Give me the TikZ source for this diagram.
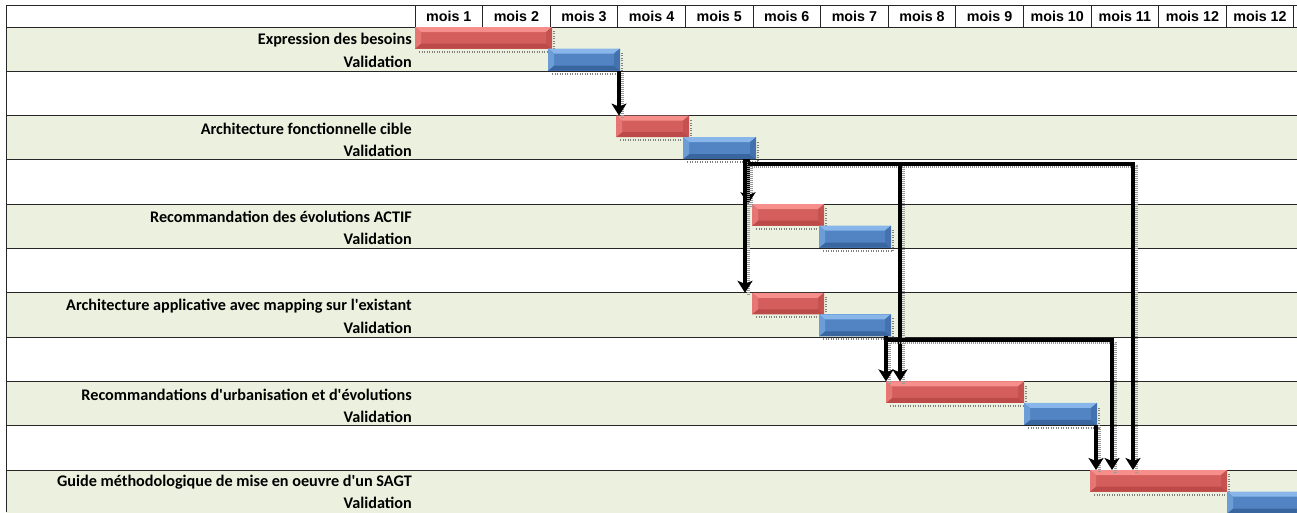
\documentclass[tikz,border=0pt]{standalone}
\usepackage{fontspec}
\setmainfont{Carlito}[Ligatures=TeXOff]
\newfontfamily\hdrfont{Liberation Sans}
\usetikzlibrary{arrows.meta,calc}
\definecolor{rowgreen}{RGB}{235,241,222}
\definecolor{redmid}{RGB}{212,94,92}
\definecolor{redlight}{RGB}{246,142,140}
\definecolor{reddark}{RGB}{188,74,72}
\definecolor{bluemid}{RGB}{82,132,196}
\definecolor{bluelight}{RGB}{136,182,234}
\definecolor{bluedark}{RGB}{58,102,160}
\pgfdeclarelayer{bg}
\pgfdeclarelayer{shade}
\pgfsetlayers{bg,shade,main}
\begin{document}
\begin{tikzpicture}[x=1pt,y=-1pt,
  grid/.style={draw=black!85,line width=0.9pt},
  hdr/.style={font=\hdrfont\bfseries\fontsize{14.3}{15}\selectfont,inner sep=0},
  lbl/.style={font=\bfseries\fontsize{16.2}{17}\selectfont,anchor=east,inner sep=0},
  ganttbar/.style={rectangle,inner sep=0,outer sep=0,anchor=north west,fill=#1mid,
    path picture={
      \coordinate (pNW) at (path picture bounding box.north west);
      \coordinate (pNE) at (path picture bounding box.north east);
      \coordinate (pSW) at (path picture bounding box.south west);
      \coordinate (pSE) at (path picture bounding box.south east);
      \fill[#1light] (pNW) -- (pNE) -- ($(pNE)+(-6,5)$) -- ($(pNW)+(6,5)$) -- cycle;
      \fill[#1dark] (pSW) -- (pSE) -- ($(pSE)+(-6,-5)$) -- ($(pSW)+(6,-5)$) -- cycle;
      \fill[#1dark!60!#1mid] (pNE) -- (pSE) -- ($(pSE)+(-6,-5)$) -- ($(pNE)+(-6,5)$) -- cycle;
      \fill[#1light!50!#1mid] (pNW) -- (pSW) -- ($(pSW)+(6,-5)$) -- ($(pNW)+(6,5)$) -- cycle;
    }},
  barshadow/.style={draw=black!50,line width=2pt,dash pattern=on 1pt off 1.5pt},
  dep/.style={line width=4pt,draw=black,-{Stealth[length=12pt,width=15pt,inset=3pt]},
    preaction={-,draw=black!40,line width=2.5pt,dash pattern=on 1pt off 1pt,
      transform canvas={xshift=3.5pt,yshift=-2.5pt}}},
]
\useasboundingbox (0,0) rectangle (1297,512);
% rows and grid
\begin{pgfonlayer}{bg}
  \fill[white] (0,0) rectangle (1297,512);
  \foreach \k in {1,...,6}
    \fill[rowgreen] (6,{27+88.6*(\k-1)}) rectangle (1297,{27+88.6*(\k-1)+44.3});
  \foreach \j in {0,...,11}
    \draw[grid] (6,{27+44.3*\j}) -- (1297,{27+44.3*\j});
  \draw[grid] (6,5) -- (1297,5);
  \draw[grid] (6,5) -- (6,512);
  \foreach \i in {0,...,13}
    \draw[grid] ({415+67.6*\i},5) -- ({415+67.6*\i},27);
\end{pgfonlayer}
% header
\foreach \i/\t in {1/mois 1,2/mois 2,3/mois 3,4/mois 4,5/mois 5,6/mois 6,7/mois 7,8/mois 8,9/mois 9,10/mois 10,11/mois 11,12/mois 12,13/mois 12}
  \node[hdr] (h\i) at ({415+67.6*(\i-0.5)},16.5) {\t};
% labels
\node[lbl] (l1) at (412,40) {Expression des besoins};
\node[lbl] (v1) at (412,62) {Validation};
\node[lbl] (l2) at (412,128.6) {Architecture fonctionnelle cible};
\node[lbl] (v2) at (412,150.6) {Validation};
\node[lbl] (l3) at (412,217.2) {Recommandation des évolutions ACTIF};
\node[lbl] (v3) at (412,239.2) {Validation};
\node[lbl] (l4) at (412,305.8) {Architecture applicative avec mapping sur l'existant};
\node[lbl] (v4) at (412,327.8) {Validation};
\node[lbl] (l5) at (412,394.4) {Recommandations d'urbanisation et d'évolutions};
\node[lbl] (v5) at (412,416.4) {Validation};
\node[lbl] (l6) at (412,482) {Guide méthodologique de mise en oeuvre d'un SAGT};
\node[lbl] (v6) at (412,502.5) {Validation};
% bars
\node[ganttbar=red,minimum width=137pt,minimum height=21.5pt] (r1) at (415,27) {};
\node[ganttbar=blue,minimum width=72pt,minimum height=22pt] (b1) at (548,48.5) {};
\node[ganttbar=red,minimum width=73pt,minimum height=21.5pt] (r2) at (616,115.6) {};
\node[ganttbar=blue,minimum width=73pt,minimum height=22pt] (b2) at (683,137.1) {};
\node[ganttbar=red,minimum width=72pt,minimum height=21.5pt] (r3) at (752,204.2) {};
\node[ganttbar=blue,minimum width=72pt,minimum height=22pt] (b3) at (819,225.7) {};
\node[ganttbar=red,minimum width=72pt,minimum height=21.5pt] (r4) at (752,292.8) {};
\node[ganttbar=blue,minimum width=72pt,minimum height=22pt] (b4) at (819,314.3) {};
\node[ganttbar=red,minimum width=138pt,minimum height=21.5pt] (r5) at (886,381.4) {};
\node[ganttbar=blue,minimum width=73pt,minimum height=22pt] (b5) at (1024,402.9) {};
\node[ganttbar=red,minimum width=137pt,minimum height=21.5pt] (r6) at (1090,470) {};
\node[ganttbar=blue,minimum width=80pt,minimum height=22pt] (b6) at (1227,491.5) {};
% bar shadows
\begin{pgfonlayer}{shade}
  \foreach \b in {r1,b1,r2,b2,r3,b3,r4,b4,r5,b5,r6}
    \draw[barshadow] ($(\b.south west)+(4,3)$) -- ($(\b.south east)+(2,3)$) -- ($(\b.north east)+(2,4)$);
\end{pgfonlayer}
% dependencies
\coordinate (t2) at ($(b2.south east)+(-8,5)$);
\coordinate (t3) at ($(b4.south east)+(-4,4)$);
\coordinate (e5a) at ($(r5.north west)+(14,0)$);
\coordinate (e5b) at ($(r5.north west)+(0,0)$);
\coordinate (e6a) at ($(r6.north west)+(6,0)$);
\coordinate (e6b) at ($(r6.north west)+(22,0)$);
\coordinate (e6c) at ($(r6.north west)+(43,0)$);
\draw[dep] ($(b1.south east)+(-1,0)$) -- ($(r2.north west)+(3,0)$);
\draw[dep] ($(b2.south east)+(-8,0)$) -- ($(r3.north west)+(-4,0)$);
\draw[dep] ($(b2.south east)+(-11,0)$) -- ($(r4.north west)+(-7,0)$);
\draw[dep] (t2) -| (e6c);
\draw[dep] (t2 -| e5a) -- (e5a);
\draw[dep] ($(b4.south east)+(-5,0)$) -- (e5b);
\draw[dep] (t3) -| (e6b);
\draw[dep] ($(b5.south east)+(-1,0)$) -- (e6a);
\end{tikzpicture}
\end{document}
